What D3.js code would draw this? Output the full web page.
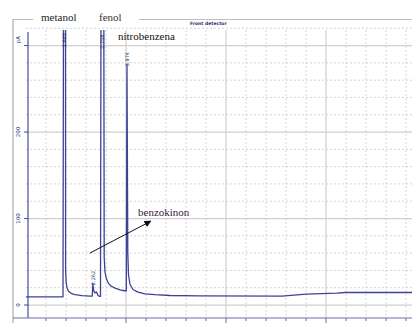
<!DOCTYPE html>
<html>
<head>
<meta charset="utf-8">
<script src="https://cdn.jsdelivr.net/npm/d3@7"></script>
<style>
  body { margin: 0; background: #fff; }
  svg { display: block; }
  .ann { font-family: 'Liberation Serif', 'DejaVu Serif', serif; font-size: 11px; }
</style>
</head>
<body>
<svg id="chart" width="412" height="323"></svg>
<script>
// chromatogram trace, time (min) vs signal (pA)
const sigTime = [0, 0.37, 0.375, 0.395, 0.396, 0.402, 0.41, 0.425, 0.45, 0.49, 0.56, 0.64,
  0.663, 0.668, 0.676, 0.69, 0.705, 0.72, 0.735, 0.745, 0.75, 0.778, 0.782, 0.79, 0.805,
  0.825, 0.85, 0.89, 0.94, 0.985, 1.003, 1.01, 1.018, 1.025, 1.04, 1.07, 1.12, 1.19, 1.29,
  1.44, 1.74, 2.56, 2.8, 3.11, 3.19, 3.86];
const sigPA = [9.5, 9.5, 345, 345, 40, 26, 20, 16, 13.5, 12, 10.8, 10.2,
  10.4, 25, 17, 14, 15, 11, 10, 10, 345, 345, 55, 38, 30,
  25, 22, 19.5, 17.5, 16.5, 16.5, 278, 60, 35, 24, 18, 15, 13, 12,
  11, 10.6, 10.3, 12.5, 13.8, 14.5, 14.5];

const peakTime = [0.385, 0.668, 0.764, 1.01];
const peakLabels = ["1.663", "2.262", "2.758", "3.974"];
const peakLabelBase = [298, 23, 296, 276];

const compoundNames = ["metanol", "fenol", "nitrobenzena", "benzokinon"];

const yMajor = [0, 100, 200, 300];
const yTickLabels = ["0", "100", "200"];

const width = 412, height = 323;
const svg = d3.select("#chart");

const x = d3.scaleLinear().domain([0, 3.86]).range([26, 412]);
const y = d3.scaleLinear().domain([-15, 330]).range([318, 19.6]);

const gridTop = 30;
const minorX = d3.range(0.2, 3.86, 0.2).filter(v => Math.abs(v - Math.round(v)) > 0.01);
const majorX = [1, 2, 3];
const minorY = d3.range(20, 330, 20).filter(v => v % 100 !== 0);

// outer frame
svg.append("line").attr("x1", 13).attr("x2", 13).attr("y1", 19).attr("y2", height)
  .attr("stroke", "#bdbdbd").attr("stroke-width", 1.5);
svg.append("line").attr("x1", 13).attr("x2", width).attr("y1", 19.5).attr("y2", 19.5)
  .attr("stroke", "#bdbdbd").attr("stroke-width", 1.2);

// grid
const grid = svg.append("g");
grid.selectAll(".vminor").data(minorX).join("line")
  .attr("x1", d => x(d)).attr("x2", d => x(d)).attr("y1", gridTop).attr("y2", y(-15))
  .attr("stroke", "#d4d4d4").attr("stroke-dasharray", "2,2");
grid.selectAll(".hminor").data(minorY).join("line")
  .attr("x1", x(0)).attr("x2", width).attr("y1", d => y(d)).attr("y2", d => y(d))
  .attr("stroke", "#d4d4d4").attr("stroke-dasharray", "2,2");
grid.selectAll(".vmajor").data(majorX).join("line")
  .attr("x1", d => x(d)).attr("x2", d => x(d)).attr("y1", gridTop).attr("y2", y(-15))
  .attr("stroke", "#cfcfcf").attr("stroke-width", 1.2);
grid.selectAll(".hmajor").data(yMajor).join("line")
  .attr("x1", x(0)).attr("x2", width).attr("y1", d => y(d)).attr("y2", d => y(d))
  .attr("stroke", "#cfcfcf").attr("stroke-width", 1.2);

// axes
const axisCol = "#4a4f9a";
svg.append("line").attr("x1", x(0) + 2).attr("x2", x(0) + 2).attr("y1", gridTop + 2).attr("y2", y(-15))
  .attr("stroke", axisCol).attr("stroke-width", 1.2);
svg.selectAll(".ytick").data(yMajor).join("line")
  .attr("x1", x(0) - 2).attr("x2", x(0) + 2).attr("y1", d => y(d)).attr("y2", d => y(d))
  .attr("stroke", axisCol);
svg.append("line").attr("x1", 13).attr("x2", width).attr("y1", y(-15)).attr("y2", y(-15))
  .attr("stroke", "#6a6fa8").attr("stroke-width", 1.2);
svg.selectAll(".xtick").data(minorX.concat(majorX)).join("line")
  .attr("x1", d => x(d)).attr("x2", d => x(d)).attr("y1", y(-15))
  .attr("y2", d => y(-15) + (Number.isInteger(d) ? 5 : 3))
  .attr("stroke", "#6a6fa8");

svg.selectAll(".ylab").data(yTickLabels).join("text")
  .attr("transform", (d, i) => `translate(20,${y(yMajor[i])}) rotate(-90)`)
  .attr("text-anchor", "middle")
  .attr("font-family", "DejaVu Sans, sans-serif").attr("font-size", 5.5)
  .attr("fill", "#333a80").text(d => d);
svg.append("text").attr("transform", `translate(20,${y(300) - 6}) rotate(-90)`)
  .attr("text-anchor", "middle")
  .attr("font-family", "DejaVu Sans, sans-serif").attr("font-size", 5.5)
  .attr("fill", "#333a80").text("pA");

svg.append("text").attr("x", 190).attr("y", 25)
  .attr("font-family", "DejaVu Sans, sans-serif").attr("font-size", 4.5).attr("font-weight", "bold")
  .attr("fill", "#2a2f70").text("Front detector");

// trace
svg.append("clipPath").attr("id", "plotclip").append("rect")
  .attr("x", x(0)).attr("y", gridTop).attr("width", width - x(0)).attr("height", y(-15) - gridTop);
const line = d3.line().x((d, i) => x(sigTime[i])).y(d => y(d));
svg.append("path").datum(sigPA).attr("d", line)
  .attr("clip-path", "url(#plotclip)")
  .attr("fill", "none").attr("stroke", "#3d4296").attr("stroke-width", 1.3)
  .attr("stroke-linejoin", "round");

// peak retention labels
svg.selectAll(".plab").data(peakLabels).join("text")
  .attr("transform", (d, i) => `translate(${x(peakTime[i]) + 1.8},${y(peakLabelBase[i])}) rotate(-90)`)
  .attr("font-family", "DejaVu Sans, sans-serif").attr("font-size", 5)
  .attr("fill", "#2a2f60")
  .text(d => d);

// compound annotations
svg.append("rect").attr("x", 33).attr("y", 12).attr("width", 106).attr("height", 14).attr("fill", "#fff");
svg.append("text").attr("class", "ann").attr("x", 41).attr("y", 21)
  .attr("fill", "#222").text(compoundNames[0]);
svg.append("text").attr("class", "ann").attr("x", 99).attr("y", 21)
  .attr("fill", "#333").text(compoundNames[1]);
svg.append("text").attr("class", "ann").attr("x", 118).attr("y", 40)
  .attr("fill", "#111").text(compoundNames[2]);
svg.append("text").attr("class", "ann").attr("x", 138).attr("y", 216)
  .attr("fill", "#3a2040").text(compoundNames[3]);

// arrow from the small peak to its label
svg.append("defs").append("marker").attr("id", "arr")
  .attr("viewBox", "0 0 10 10").attr("refX", 9).attr("refY", 5)
  .attr("markerWidth", 7).attr("markerHeight", 7).attr("orient", "auto")
  .append("path").attr("d", "M0,0L10,5L0,10z").attr("fill", "#111");
svg.append("line")
  .attr("x1", x(peakTime[1]) - 3).attr("y1", y(60))
  .attr("x2", x(peakTime[1]) + 58).attr("y2", y(97))
  .attr("stroke", "#111").attr("stroke-width", 1).attr("marker-end", "url(#arr)");
</script>
</body>
</html>
